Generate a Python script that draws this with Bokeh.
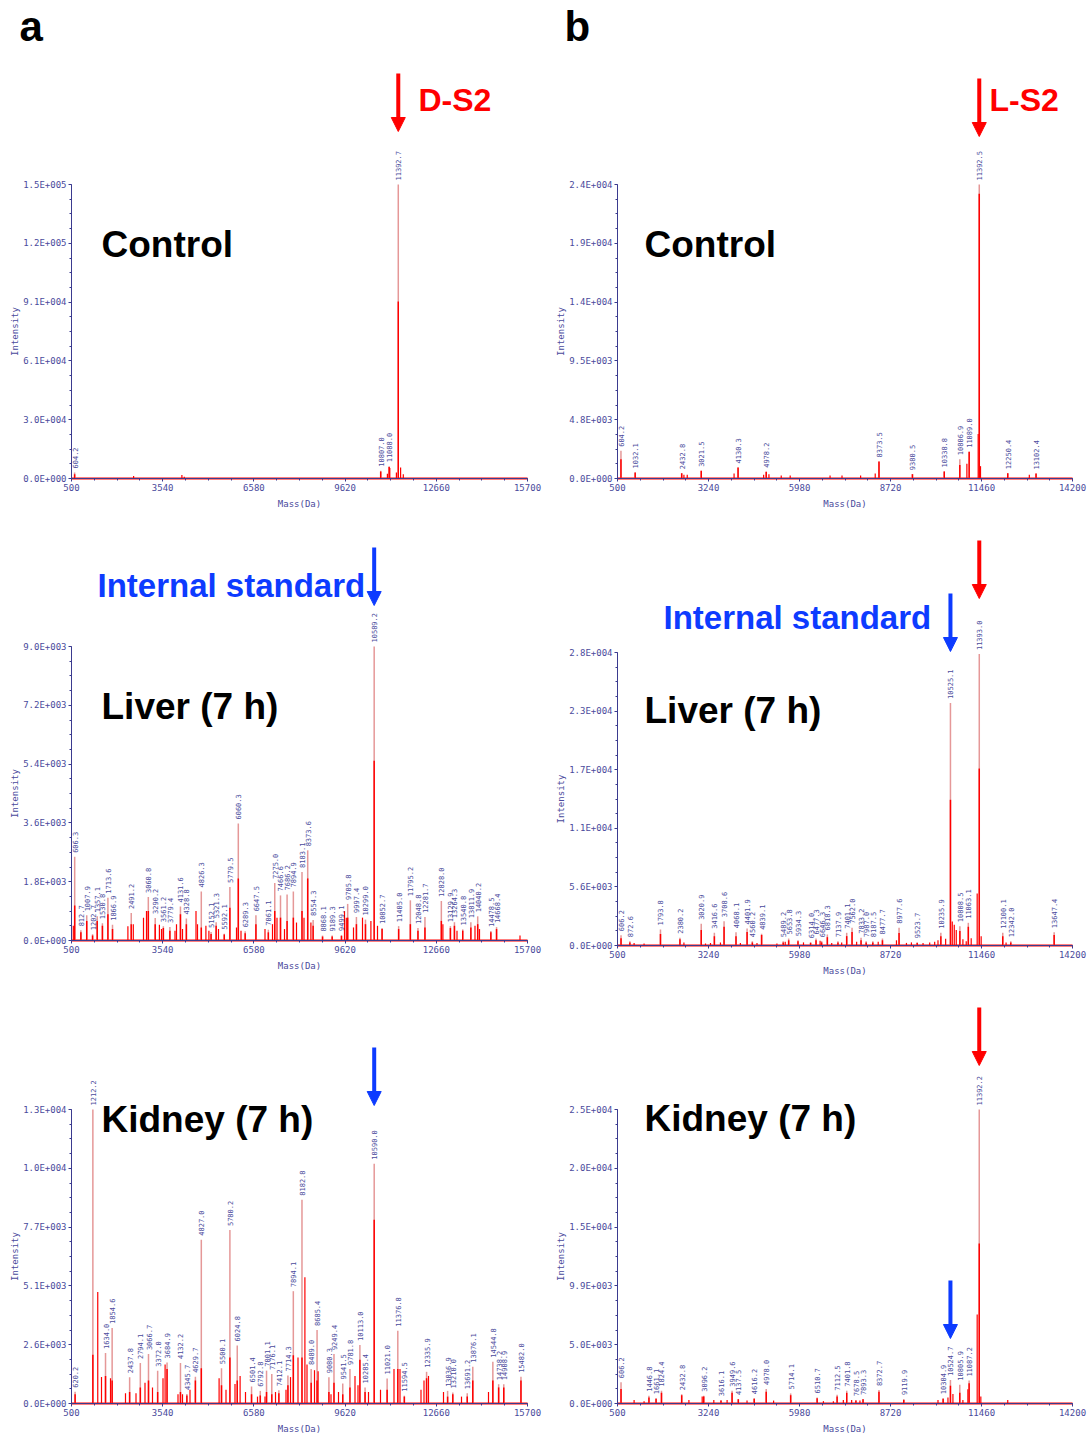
import math
from bokeh.plotting import figure
from bokeh.models import Range1d, FixedTicker, Label, Arrow, NormalHead, ColumnDataSource
from bokeh.layouts import column, row
from bokeh.embed import file_html
from bokeh.resources import INLINE
from bokeh.core.properties import value

# ---------------- axis tick labels ----------------
X_TICKS_A = [500, 3540, 6580, 9620, 12660, 15700]
X_TICKS_B = [500, 3240, 5980, 8720, 11460, 14200]

A1_YMAX = 152000
A1_YT = ["0.0E+000", "3.0E+004", "6.1E+004", "9.1E+004", "1.2E+005", "1.5E+005"]
B1_YMAX = 23800
B1_YT = ["0.0E+000", "4.8E+003", "9.5E+003", "1.4E+004", "1.9E+004", "2.4E+004"]
A2_YMAX = 9000
A2_YT = ["0.0E+000", "1.8E+003", "3.6E+003", "5.4E+003", "7.2E+003", "9.0E+003"]
B2_YMAX = 28150
B2_YT = ["0.0E+000", "5.6E+003", "1.1E+004", "1.7E+004", "2.3E+004", "2.8E+004"]
A3_YMAX = 12800
A3_YT = ["0.0E+000", "2.6E+003", "5.1E+003", "7.7E+003", "1.0E+004", "1.3E+004"]
B3_YMAX = 24800
B3_YT = ["0.0E+000", "5.0E+003", "9.9E+003", "1.5E+004", "2.0E+004", "2.5E+004"]

# ---------------- a: D-S2, Control ----------------
A1_MASS = [604.2, 10807.0, 11088.0, 11392.7]
A1_INT = [3100, 4000, 6300, 152000]
A1_RED = [2200, 3600, 6000, 91500]
A1_XM = [2570, 4180, 4260, 11030, 11110, 11330, 11470, 11560]
A1_XI = [1300, 1800, 900, 2500, 5400, 3100, 5700, 2200]

# ---------------- b: L-S2, Control ----------------
B1_MASS = [604.2, 1032.1, 2432.8, 3021.5, 4130.3, 4978.2, 8373.5, 9380.5, 10338.8,
           10806.9, 11089.0, 11392.5, 12250.4, 13102.4]
B1_INT = [2240, 485, 430, 620, 890, 540, 1375, 350, 570, 1560, 2160, 23800, 430, 400]
B1_RED = [1560, 485, 430, 620, 890, 540, 1375, 350, 570, 1100, 2160, 23050, 430, 400]
B1_XM = [2500, 2600, 4010, 4900, 5060, 5430, 5700, 6900, 7260, 7820, 8260, 11020, 11360, 11430, 12900]
B1_XI = [300, 300, 400, 300, 350, 250, 250, 250, 250, 250, 400, 1200, 3600, 1000, 300]

# ---------------- a: Liver (7 h) ----------------
A2_MASS = [606.3, 812.7, 1007.9, 1202.7, 1357.1, 1530.8, 1713.6, 1866.9, 2491.2, 3060.8,
           3290.2, 3561.2, 3779.4, 4131.6, 4328.8, 4826.3, 5152.1, 5321.3, 5592.1, 5779.5,
           6060.3, 6289.3, 6647.5, 7061.1, 7275.0, 7466.6, 7686.2, 7894.9, 8183.1, 8373.6,
           8554.3, 8868.1, 9189.3, 9499.1, 9705.8, 9997.4, 10299.0, 10589.2, 10852.7, 11405.0,
           11795.2, 12048.8, 12281.7, 12828.0, 13129.9, 13264.3, 13540.8, 13811.9, 14040.2, 14478.5,
           14668.4]
A2_INT = [2560, 310, 770, 190, 740, 530, 1310, 480, 840, 1330,
          690, 440, 410, 1040, 670, 1500, 260, 560, 210, 1640,
          3580, 280, 770, 330, 1760, 1380, 1410, 1500, 2100, 2760,
          630, 150, 150, 170, 1120, 720, 640, 9000, 380, 440,
          1230, 380, 720, 1210, 440, 560, 340, 560, 740, 290,
          410]
A2_RED = [1070, 250, 600, 150, 600, 450, 800, 350, 500, 900,
          500, 380, 300, 800, 500, 400, 200, 450, 180, 1000,
          1900, 220, 500, 250, 900, 700, 600, 700, 900, 1900,
          450, 120, 120, 140, 700, 500, 500, 5500, 350, 350,
          500, 300, 400, 600, 380, 450, 300, 400, 500, 250,
          350]
A2_XM = [560, 2380, 2560, 2900, 3000, 3430, 3500, 3950, 4000, 4200,
         4650, 4700, 4980, 5080, 5400, 6000, 6150, 6950, 7200, 7350,
         7600, 8000, 8250, 8480, 9600, 9660, 9900, 10200, 10480, 10700,
         12880, 13350, 13950, 14100, 15450]
A2_XI = [450, 440, 500, 700, 900, 480, 350, 300, 500, 350,
         900, 500, 450, 300, 350, 400, 300, 350, 500, 700,
         350, 550, 700, 550, 900, 700, 400, 700, 600, 450,
         500, 300, 450, 350, 150]

# ---------------- b: Liver (7 h) ----------------
B2_MASS = [606.2, 872.6, 1793.8, 2380.2, 3020.9, 3416.6, 3708.6, 4068.1, 4401.9, 4560.2,
           4839.1, 5489.2, 5653.8, 5934.3, 6314.0, 6477.3, 6646.3, 6818.3, 7137.9, 7401.1,
           7562.0, 7833.2, 7987.0, 8187.5, 8477.7, 8977.6, 9523.7, 10235.9, 10525.1, 10808.5,
           11063.1, 11393.0, 12100.1, 12342.0, 13647.4]
B2_INT = [990, 420, 1540, 740, 2080, 1220, 2340, 1280, 1630, 420,
          1120, 420, 670, 510, 320, 670, 420, 1060, 420, 1220,
          1700, 740, 420, 420, 670, 1700, 320, 1220, 23300, 1860,
          2180, 28000, 1220, 420, 1280]
B2_RED = [700, 300, 1100, 600, 1500, 900, 1800, 900, 1300, 300,
          1000, 300, 500, 400, 250, 500, 300, 800, 300, 900,
          1300, 500, 300, 300, 500, 1200, 250, 900, 14000, 1400,
          1800, 17000, 900, 300, 1000]
B2_XM = [1000, 1300, 2500, 3150, 3300, 3600, 4200, 4700, 5300, 5550,
         6100, 6600, 6950, 7250, 7700, 8350, 8900, 9200, 9350, 9700,
         9900, 10050, 10150, 10380, 10580, 10640, 10700, 10900, 11000, 11150,
         11330, 11450, 12200]
B2_XI = [250, 200, 300, 200, 250, 300, 250, 250, 200, 350,
         300, 450, 250, 300, 350, 350, 500, 250, 300, 250,
         300, 350, 500, 650, 2300, 2000, 1500, 600, 400, 700,
         5000, 900, 300]

# ---------------- a: Kidney (7 h) ----------------
A3_MASS = [620.2, 1212.2, 1634.0, 1854.6, 2437.8, 2794.1, 3066.7, 3372.0, 3684.9, 4132.2,
           4345.7, 4629.7, 4827.0, 5500.1, 5780.2, 6024.8, 6501.4, 6792.8, 7001.1, 7176.1,
           7412.1, 7714.3, 7894.1, 8182.8, 8489.0, 8685.4, 9080.3, 9249.4, 9541.5, 9781.8,
           10113.0, 10285.4, 10590.0, 11021.0, 11376.8, 11594.5, 12335.9, 13036.9, 13210.0, 13691.2,
           13876.1, 14544.8, 14738.2, 14908.9, 15482.0]
A3_INT = [510, 12800, 2200, 3290, 1140, 1760, 2150, 1430, 1790, 1760,
          410, 1160, 7130, 1540, 7550, 2530, 740, 550, 1430, 1280,
          580, 1220, 4890, 8870, 1500, 3200, 1140, 2150, 870, 1500,
          2550, 700, 10440, 1090, 3170, 340, 1380, 550, 480, 450,
          1600, 1820, 840, 840, 1160]
A3_RED = [400, 2120, 1200, 1000, 500, 700, 1000, 500, 1500, 500,
          350, 1000, 1530, 800, 2000, 1000, 400, 350, 500, 400,
          450, 800, 2100, 2000, 900, 1000, 500, 900, 400, 700,
          1900, 500, 8000, 600, 1500, 300, 1100, 300, 400, 300,
          1000, 1000, 700, 700, 1000]
A3_XM = [1375, 1500, 1800, 2300, 2650, 2950, 3200, 3550, 3620, 4050,
         4200, 4450, 5420, 5650, 5950, 6120, 6300, 6700, 6950, 7300,
         7650, 7800, 8050, 8280, 8350, 8600, 8720, 9150, 9400, 9950,
         10050, 10400, 10800, 11250, 11450, 12150, 12250, 12400, 12900, 13500,
         14400]
A3_XI = [4850, 1150, 1100, 450, 450, 900, 700, 1100, 1700, 400,
         400, 600, 1100, 600, 850, 1200, 500, 300, 300, 500,
         600, 1150, 2000, 5500, 1700, 1450, 1400, 400, 500, 1200,
         800, 500, 600, 1500, 1500, 600, 1000, 1200, 500, 300,
         500]

# ---------------- b: Kidney (7 h) ----------------
B3_MASS = [606.2, 1446.8, 1661.1, 1824.4, 2432.8, 3096.2, 3616.1, 3949.6, 4137.5, 4616.2,
           4978.0, 5714.1, 6510.7, 7112.5, 7401.8, 7678.5, 7893.3, 8372.7, 9119.9, 10304.9,
           10524.7, 10805.9, 11087.2, 11392.2]
B3_INT = [1790, 650, 450, 1080, 790, 650, 280, 1080, 370, 450,
          1220, 850, 510, 740, 1080, 280, 370, 1130, 370, 450,
          1980, 1590, 1930, 24800]
B3_RED = [1220, 500, 400, 900, 700, 600, 250, 900, 350, 400,
          1000, 700, 450, 600, 900, 250, 350, 1000, 300, 400,
          1500, 900, 1700, 13500]
B3_XM = [1000, 1300, 2650, 3050, 3400, 3800, 4400, 5200, 6700, 7000,
         7300, 7550, 7800, 10150, 10450, 10600, 10900, 11050, 11330, 11440,
         12250]
B3_XI = [300, 200, 300, 600, 300, 300, 250, 250, 200, 200,
         300, 300, 250, 300, 500, 800, 300, 1200, 7500, 600,
         300]

# ---------------- styling / layout ----------------
NAVY = "#3b3b8f"
TXT = "#4a4a9c"
PINK = "#e59898"
RED = "#ff0000"
BLUE = "#0d3bff"
BOLD = "Liberation Sans"
MONO = "DejaVu Sans Mono"

# canvas columns / rows (screen px) and where each axis sits inside them
COLS = {"a": dict(left=0, w=544, fl=71, fr=527), "b": dict(left=544, w=544, fl=617, fr=1072)}
ROWS = {"1": dict(top=0, h=515), "2": dict(top=515, h=465), "3": dict(top=980, h=453)}
ZERO = {"a1": 478, "b1": 478, "a2": 940, "b2": 945, "a3": 1403, "b3": 1403}
YTOP = {"a1": 184, "b1": 184, "a2": 646, "b2": 652, "a3": 1109, "b3": 1109}


class Panel:
    def __init__(self, key, xticks, ymax, ylabels, mass, inten, red, xm, xi):
        c = COLS[key[0]]
        r = ROWS[key[1]]
        self.fl, self.fr = c["fl"], c["fr"]
        self.zero = ZERO[key]
        self.ytop = YTOP[key]
        self.x0, self.x1 = xticks[0], xticks[-1]
        self.ymax = ymax
        p = figure(width=c["w"], height=r["h"],
                   x_range=Range1d(self.px(c["left"]), self.px(c["left"] + c["w"])),
                   y_range=Range1d(self.py(r["top"] + r["h"]), self.py(r["top"])),
                   output_backend="svg", toolbar_location=None, title=None,
                   min_border=0, min_border_left=0, min_border_right=0,
                   min_border_top=0, min_border_bottom=0,
                   outline_line_color=None, background_fill_color="white",
                   border_fill_color="white")
        p.xgrid.visible = False
        p.ygrid.visible = False

        xs = (self.x1 - self.x0) / 5.0
        p.xaxis.ticker = FixedTicker(ticks=list(xticks),
                                     minor_ticks=[self.x0 + xs * k / 4.0 for k in range(21)])
        p.xaxis.major_label_overrides = {t: str(t) for t in xticks}
        p.xaxis.bounds = (self.x0, self.x1)
        p.xaxis.fixed_location = 0
        yt = [ymax * i / 5.0 for i in range(6)]
        p.yaxis.ticker = FixedTicker(ticks=yt, minor_ticks=[ymax * k / 20.0 for k in range(21)])
        p.yaxis.major_label_overrides = {t: lab for t, lab in zip(yt, ylabels)}
        p.yaxis.bounds = (0, ymax)
        p.yaxis.fixed_location = self.x0
        for ax in (p.xaxis[0], p.yaxis[0]):
            ax.axis_line_color = NAVY
            ax.major_tick_line_color = NAVY
            ax.minor_tick_line_color = NAVY
            ax.major_tick_in = 0
            ax.major_tick_out = 3
            ax.minor_tick_in = 0
            ax.minor_tick_out = 2
            ax.major_label_text_font = MONO
            ax.major_label_text_font_size = "9px"
            ax.major_label_text_color = TXT
            ax.major_label_standoff = 2

        # spectrum baseline, centroid sticks (pink), raw profile (red)
        p.line(x=[self.x0, self.x1], y=[0, 0], line_color=RED, line_width=2)
        src = ColumnDataSource(dict(x=mass, top=inten, red=red,
                                    lab=["%.1f" % m for m in mass]))
        p.segment(x0="x", y0=0, x1="x", y1="top", source=src, line_color=PINK, line_width=1.5)
        p.segment(x0="x", y0=0, x1="x", y1="red", source=src, line_color=RED, line_width=1.5)
        p.segment(x0=xm, y0=[0] * len(xm), x1=xm, y1=xi, line_color=RED, line_width=1.2)
        p.text(x="x", y="top", text="lab", source=src, angle=math.pi / 2,
               text_align="left", text_baseline="middle", y_offset=-4,
               text_font=value(MONO), text_font_size="7px", text_color=TXT)

        # axis titles
        p.add_layout(Label(x=self.px(self.fl - 57), y=self.py((self.zero + self.ytop) / 2.0),
                           text="Intensity", angle=math.pi / 2, text_align="center",
                           text_baseline="middle", text_font=MONO, text_font_size="9px",
                           text_color=TXT))
        p.add_layout(Label(x=self.px((self.fl + self.fr) / 2.0), y=self.py(self.zero + 25),
                           text="Mass(Da)", text_align="center",
                           text_baseline="middle", text_font=MONO, text_font_size="9px",
                           text_color=TXT))
        self.p = p

    def px(self, sx):
        return self.x0 + (sx - self.fl) / float(self.fr - self.fl) * (self.x1 - self.x0)

    def py(self, sy):
        return (self.zero - sy) / float(self.zero - self.ytop) * self.ymax

    def text(self, txt, sx, sy, size, color):
        self.p.add_layout(Label(x=self.px(sx), y=self.py(sy), text=txt,
                                text_font=BOLD, text_font_style="bold",
                                text_font_size="%dpx" % size, text_color=color,
                                text_align="left", text_baseline="middle"))

    def arrow(self, mass, sy0, sy1, color):
        self.p.add_layout(Arrow(x_start=mass, y_start=self.py(sy0), x_end=mass, y_end=self.py(sy1),
                                line_color=color, line_width=4,
                                end=NormalHead(size=14, fill_color=color, line_color=color)))


a1 = Panel("a1", X_TICKS_A, A1_YMAX, A1_YT, A1_MASS, A1_INT, A1_RED, A1_XM, A1_XI)
b1 = Panel("b1", X_TICKS_B, B1_YMAX, B1_YT, B1_MASS, B1_INT, B1_RED, B1_XM, B1_XI)
a2 = Panel("a2", X_TICKS_A, A2_YMAX, A2_YT, A2_MASS, A2_INT, A2_RED, A2_XM, A2_XI)
b2 = Panel("b2", X_TICKS_B, B2_YMAX, B2_YT, B2_MASS, B2_INT, B2_RED, B2_XM, B2_XI)
a3 = Panel("a3", X_TICKS_A, A3_YMAX, A3_YT, A3_MASS, A3_INT, A3_RED, A3_XM, A3_XI)
b3 = Panel("b3", X_TICKS_B, B3_YMAX, B3_YT, B3_MASS, B3_INT, B3_RED, B3_XM, B3_XI)

# panel letters
a1.text("a", 19, 26, 42, "black")
b1.text("b", 564, 26, 42, "black")

# top row
a1.arrow(A1_MASS[3], 73, 131, RED)
a1.text("D-S2", 418, 99, 32, RED)
a1.text("Control", 101, 244, 37, "black")
b1.arrow(B1_MASS[11], 78, 136, RED)
b1.text("L-S2", 989, 99, 32, RED)
b1.text("Control", 644, 244, 37, "black")

# middle row
a2.text("Internal standard", 97, 585, 33, BLUE)
a2.arrow(A2_MASS[37], 547, 605, BLUE)
a2.text("Liver (7 h)", 101, 706, 37, "black")
b2.arrow(B2_MASS[31], 540, 598, RED)
b2.arrow(B2_MASS[28], 593, 651, BLUE)
b2.text("Internal standard", 663, 617, 33, BLUE)
b2.text("Liver (7 h)", 644, 710, 37, "black")

# bottom row
a3.arrow(A3_MASS[32], 1047, 1105, BLUE)
a3.text("Kidney (7 h)", 101, 1119, 37, "black")
b3.arrow(B3_MASS[23], 1007, 1065, RED)
b3.arrow(B3_MASS[20], 1280, 1338, BLUE)
b3.text("Kidney (7 h)", 644, 1118, 37, "black")

layout = column(row(a1.p, b1.p), row(a2.p, b2.p), row(a3.p, b3.p))
open("out.html", "w").write(file_html(layout, INLINE))
